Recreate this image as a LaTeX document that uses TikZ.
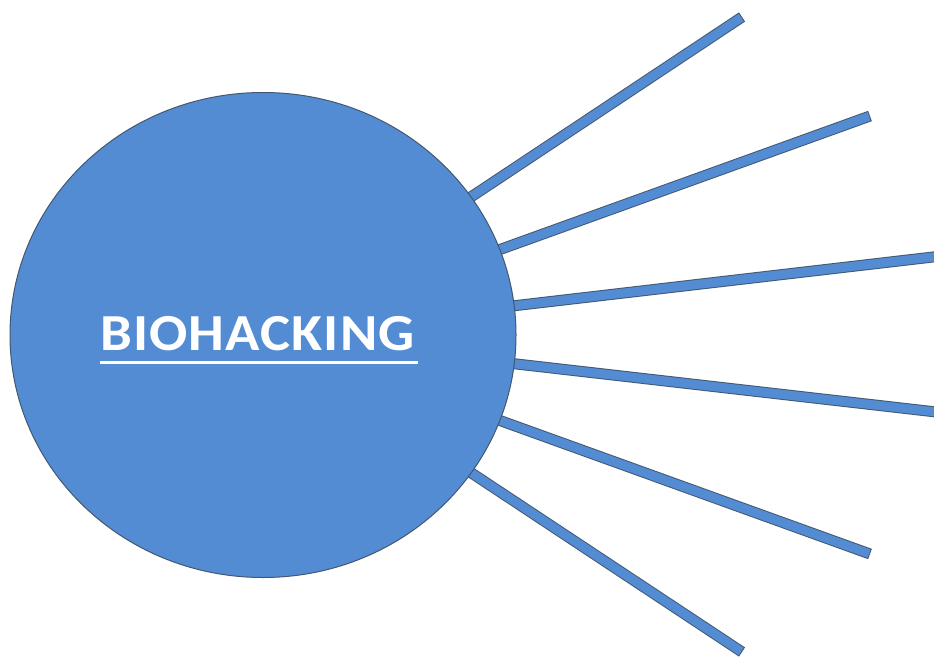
\documentclass[tikz,border=0pt]{standalone}
\usepackage{fontspec}
\setmainfont{Carlito}
\usetikzlibrary{shapes.geometric,backgrounds}
\definecolor{hubfill}{RGB}{84,140,212}
\definecolor{hubedge}{RGB}{66,88,112}
\tikzset{
  hubnode/.style={ellipse, draw=hubedge, line width=1pt, fill=hubfill,
    minimum width=506pt, minimum height=485pt, inner sep=0pt},
  rayouter/.style={draw=hubedge, line width=11pt},
  rayinner/.style={draw=hubfill, line width=9pt, shorten >=1pt},
  label/.style={text=white, font=\fontsize{52}{58}\selectfont\bfseries\addfontfeatures{LetterSpace=2}, inner sep=0pt}
}
\begin{document}
\begin{tikzpicture}[x=1pt,y=-1pt]
\clip (0,0) rectangle (934,656);
\node[hubnode] (hub) at (263,335) {};
\coordinate (e1) at (742,17);
\coordinate (e2) at (870,116);
\coordinate (e3) at (945,255.6);
\coordinate (e4) at (945,413);
\coordinate (e5) at (870,554);
\coordinate (e6) at (742,652);
\begin{pgfonlayer}{background}
\fill[white] (0,0) rectangle (934,656);
\foreach \e in {e1,e2,e3,e4,e5,e6}{
  \draw[rayouter] (hub.center) -- (\e);
  \draw[rayinner] (hub.center) -- (\e);
}
\end{pgfonlayer}
\node[label, anchor=base west] (title) at (100,350) {\scalebox{1.09}[1]{BIOHACKING}};
\coordinate (u1) at (100,362);
\coordinate (u2) at (418,362);
\draw[white, line width=3pt] (u1) -- (u2);
\end{tikzpicture}
\end{document}
